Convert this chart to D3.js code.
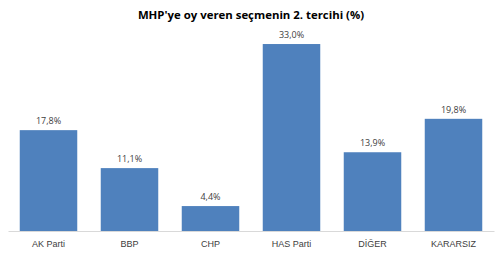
<!DOCTYPE html>
<html lang="en">
<head>
<meta charset="UTF-8">
<title>MHP 2. tercih</title>
<script src="https://d3js.org/d3.v7.min.js"></script>
<style>
  * { margin: 0; padding: 0; }
  body { background: #fff; }
  svg { display: block; font-family: "Open Sans", "DejaVu Sans", sans-serif; }
  .title { font-weight: bold; font-size: 11.4px; fill: #000; }
  .val { font-size: 9px; fill: #404040; }
  .cat { font-size: 9px; fill: #404040; }
</style>
</head>
<body>
<script>
  var categories = ["AK Parti", "BBP", "CHP", "HAS Parti", "DİĞER", "KARARSIZ"]
  var values = [17.8, 11.1, 4.4, 33.0, 13.9, 19.8]
  var valueLabels = ["17,8%", "11,1%", "4,4%", "33,0%", "13,9%", "19,8%"]

  var width = 500, height = 253

  var svg = d3.select("body").append("svg")
      .attr("width", width)
      .attr("height", height)

  var x = d3.scaleBand()
      .domain(categories)
      .range([8, 494])
      .paddingInner(0.29)
      .paddingOuter(0.145)

  var y = d3.scaleLinear()
      .domain([0, 35])
      .range([231, 32.7])

  svg.append("text")
      .attr("class", "title")
      .attr("x", 251)
      .attr("y", 19)
      .attr("text-anchor", "middle")
      .text("MHP'ye oy veren seçmenin 2. tercihi (%)")

  svg.selectAll("rect.bar")
      .data(values)
      .enter()
      .append("rect")
      .attr("class", "bar")
      .attr("x", function(d, i) { return x(categories[i]) })
      .attr("y", function(d) { return y(d) })
      .attr("width", x.bandwidth())
      .attr("height", function(d) { return y(0) - y(d) })
      .style("fill", "#4f81bd")

  svg.selectAll("text.val")
      .data(values)
      .enter()
      .append("text")
      .attr("class", "val")
      .attr("x", function(d, i) { return x(categories[i]) + x.bandwidth() / 2 })
      .attr("y", function(d) { return y(d) - 6 })
      .attr("text-anchor", "middle")
      .text(function(d, i) { return valueLabels[i] })

  var axis = svg.append("g")
      .attr("transform", "translate(0," + y(0) + ")")
      .call(d3.axisBottom(x).tickSize(0).tickPadding(10))
  axis.select(".domain").attr("stroke", "#d9d9d9")
  axis.selectAll("text").attr("class", "cat").attr("font-family", null).attr("font-size", null).attr("fill", null)
</script>
</body>
</html>
